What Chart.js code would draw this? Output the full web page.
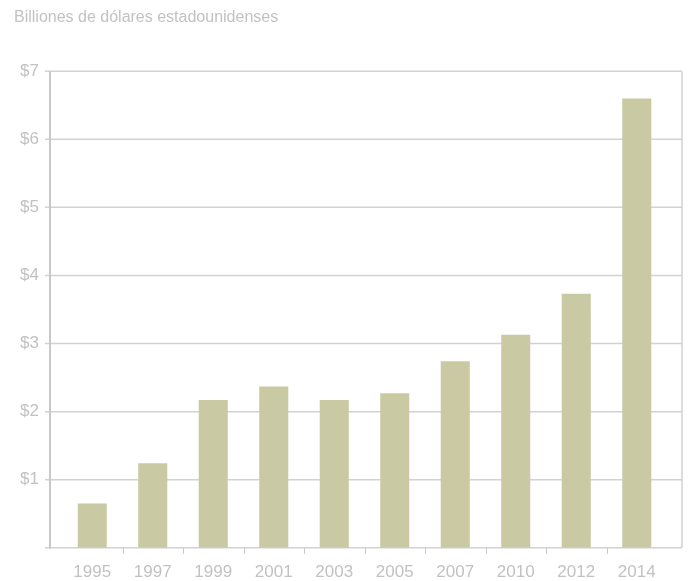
<!DOCTYPE html>
<html>
<head>
<meta charset="utf-8">
<script src="https://cdn.jsdelivr.net/npm/chart.js@4.4.1/dist/chart.umd.min.js"></script>
<style>
  html, body { margin: 0; padding: 0; background: #fff; }
  #wrap { width: 689px; height: 581px; }
</style>
</head>
<body>
<div id="wrap"><canvas id="chart-billions"></canvas></div>
<script>
// Years and totals (billions of US dollars)
const years  = ['1995', '1997', '1999', '2001', '2003', '2005', '2007', '2010', '2012', '2014'];
const totals = [0.65, 1.24, 2.17, 2.37, 2.17, 2.27, 2.74, 3.13, 3.73, 6.6];
const yTicks = [0, 1, 2, 3, 4, 5, 6, 7];

const TEXT_GREY = '#c2c2c2';
const LINE_GREY = '#d2d2d2';
const BAR_COLOR = '#c9c9a3';
const FONT = 'Liberation Sans';

// frame extends past the bar area: 12px on the left, 15px on the right
const FRAME_LEFT = 12, FRAME_RIGHT = 15;

// ─── Frame, gridlines and category ticks ──────────────────────────────────────
const framePlugin = {
  id: 'frame',
  beforeDatasetsDraw(chart) {
    const { ctx, chartArea: a, scales: { x, y } } = chart;
    const left = a.left - FRAME_LEFT;
    const right = a.right + FRAME_RIGHT;
    ctx.save();

    // horizontal gridlines (with small tick stubs left of the axis)
    ctx.strokeStyle = LINE_GREY;
    ctx.lineWidth = 1.5;
    yTicks.forEach(v => {
      const py = y.getPixelForValue(v);
      ctx.beginPath();
      ctx.moveTo(left - 5, py);
      ctx.lineTo(right, py);
      ctx.stroke();
    });

    // right border
    ctx.beginPath();
    ctx.moveTo(right, a.top);
    ctx.lineTo(right, a.bottom);
    ctx.stroke();

    // tick marks between categories
    ctx.lineWidth = 1;
    ctx.strokeStyle = '#c8c8c8';
    for (let i = 0; i < years.length - 1; i++) {
      const px = Math.round((x.getPixelForValue(i) + x.getPixelForValue(i + 1)) / 2) + 0.5;
      ctx.beginPath();
      ctx.moveTo(px, a.bottom);
      ctx.lineTo(px, a.bottom + 6);
      ctx.stroke();
    }

    // left axis line
    ctx.strokeStyle = '#c8c8c8';
    ctx.lineWidth = 2;
    ctx.beginPath();
    ctx.moveTo(left, a.top);
    ctx.lineTo(left, a.bottom + 1);
    ctx.stroke();

    ctx.restore();
  }
};

new Chart(document.getElementById('chart-billions'), {
  type: 'bar',
  data: {
    labels: years,
    datasets: [{
      data: totals,
      backgroundColor: BAR_COLOR,
      borderWidth: 0,
      categoryPercentage: 1,
      barPercentage: 0.48,
    }]
  },
  options: {
    responsive: true,
    maintainAspectRatio: false,
    animation: false,
    layout: { padding: { left: 14, right: 22, top: 0, bottom: 0 } },
    plugins: {
      legend: { display: false },
      tooltip: { enabled: false },
      title: {
        display: true,
        text: 'Billiones de dólares estadounidenses',
        align: 'start',
        color: TEXT_GREY,
        font: { family: FONT, size: 16, weight: 'normal' },
        padding: { top: 8, bottom: 44 },
      }
    },
    scales: {
      x: {
        grid: { display: false, drawTicks: false },
        border: { display: false },
        ticks: {
          color: TEXT_GREY,
          font: { family: FONT, size: 17 },
          padding: 14,
          maxRotation: 0,
        },
        afterFit: s => { s.height = 31; },
      },
      y: {
        min: 0,
        max: 7,
        grid: { display: false, drawTicks: false },
        border: { display: false },
        afterBuildTicks: s => { s.ticks = yTicks.map(v => ({ value: v })); },
        ticks: {
          color: TEXT_GREY,
          font: { family: FONT, size: 17 },
          padding: 23,
          callback: v => v === 0 ? '' : '$' + v,
        },
        afterFit: s => { s.width = 48; },
      }
    }
  },
  plugins: [framePlugin],
});
</script>
</body>
</html>
